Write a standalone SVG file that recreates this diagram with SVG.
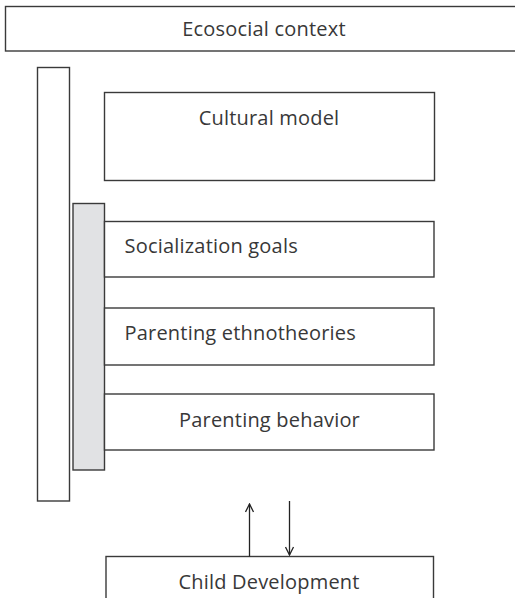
<svg xmlns="http://www.w3.org/2000/svg" width="515" height="598" viewBox="0 0 515 598">
<defs>
<style>
.box{fill:#fff;stroke:#3a3a3a;stroke-width:1.4}
.gray{fill:#e1e2e4;stroke:#3a3a3a;stroke-width:1.4}
.t{font-family:"Open Sans",Lato,sans-serif;font-size:20px;letter-spacing:0.2px;fill:#383838}
.c{stroke:#222;stroke-width:1.3;fill:none}
</style>
<marker id="ah" viewBox="0 0 10 10" refX="9" refY="5" markerWidth="10" markerHeight="10" markerUnits="userSpaceOnUse" orient="auto">
<path d="M1,1 L9,5 L1,9" fill="none" stroke="#222" stroke-width="1.3"/>
</marker>
</defs>
<rect width="515" height="598" fill="#fff"/>
<g id="ecosocial"><rect class="box" x="5.5" y="6.5" width="520" height="44.5"/><text class="t" x="264" y="36" text-anchor="middle">Ecosocial context</text></g>
<g id="outer-bar"><rect class="box" x="37.5" y="67.5" width="32" height="433.5"/></g>
<g id="cultural"><rect class="box" x="104.5" y="92.5" width="330" height="88"/><text class="t" x="269" y="125" text-anchor="middle">Cultural model</text></g>
<g id="inner-bar"><rect class="gray" x="73" y="203.5" width="31.5" height="266.5"/></g>
<g id="socialization"><rect class="box" x="104.5" y="221.5" width="329.5" height="55.5"/><text class="t" x="124.5" y="253">Socialization goals</text></g>
<g id="ethnotheories"><rect class="box" x="104.5" y="308" width="329.5" height="57"/><text class="t" x="124.5" y="340">Parenting ethnotheories</text></g>
<g id="behavior"><rect class="box" x="104.5" y="394" width="329.5" height="56"/><text class="t" x="269.5" y="427" text-anchor="middle">Parenting behavior</text></g>
<g id="child"><rect class="box" x="106" y="556.5" width="327.5" height="50"/><text class="t" x="269" y="589" text-anchor="middle">Child Development</text></g>
<g id="connectors">
<line class="c" x1="249.5" y1="556.5" x2="249.5" y2="504" marker-end="url(#ah)"/>
<line class="c" x1="289.5" y1="501" x2="289.5" y2="555" marker-end="url(#ah)"/>
</g>
</svg>
